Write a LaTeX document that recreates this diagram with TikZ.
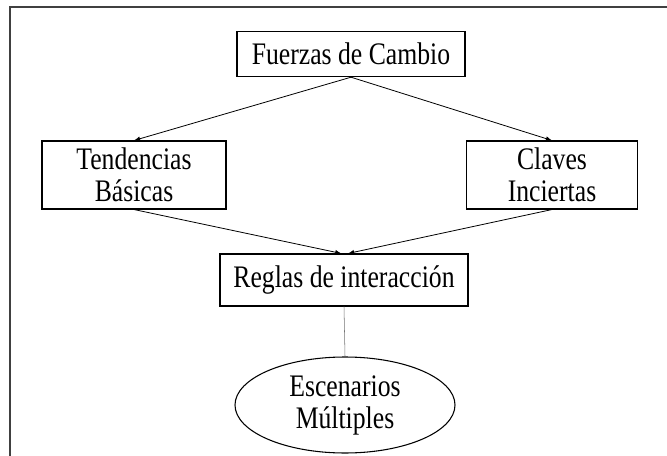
\documentclass[tikz,border=0pt]{standalone}
\usepackage{fontspec}
\setmainfont{Liberation Serif}[FakeStretch=0.82]
\usepackage{tikz}
\usetikzlibrary{arrows,shapes.geometric}
\tikzset{>=latex}
\tikzset{caja/.style={draw,thick,rectangle,inner sep=0pt,align=center,font=\fontsize{23.5}{24}\selectfont}}
\tikzset{elipse/.style={draw,thick,ellipse,inner sep=0pt,align=center,font=\fontsize{23.5}{24}\selectfont}}
\tikzset{flecha/.style={->,semithick}}

\begin{document}
\begin{tikzpicture}[x=0.75pt,y=-0.75pt]
  \useasboundingbox (0,0) rectangle (667,456);
  % Frame
  \draw[line width=1.5pt,black!75] (10,456) -- (10,7) -- (667,7);
  % Nodes
  \node[caja,minimum width=171pt,minimum height=34pt] (fuerzas) at (351,54) {Fuerzas de Cambio};
  \node[caja,minimum width=138pt,minimum height=51pt] (tend) at (134,175) {Tendencias\\B\'asicas};
  \node[caja,minimum width=128pt,minimum height=51pt] (claves) at (552,175) {Claves\\Inciertas};
  \node[caja,minimum width=186pt,minimum height=39pt] (reglas) at (344,280) {Reglas de interacci\'on};
  \node[elipse,minimum width=165pt,minimum height=72pt] (esc) at (345,405) {Escenarios\\M\'ultiples};
  % Lines
  \draw[flecha] (fuerzas.south) -- (tend.north);
  \draw[flecha] (fuerzas.south) -- (claves.north);
  \draw[flecha] (tend.south) -- ([xshift=-2pt]reglas.north);
  \draw[flecha] (claves.south) -- ([xshift=3pt]reglas.north);
  \draw[black!55] (reglas.south) -- (esc.north);
\end{tikzpicture}
\end{document}
